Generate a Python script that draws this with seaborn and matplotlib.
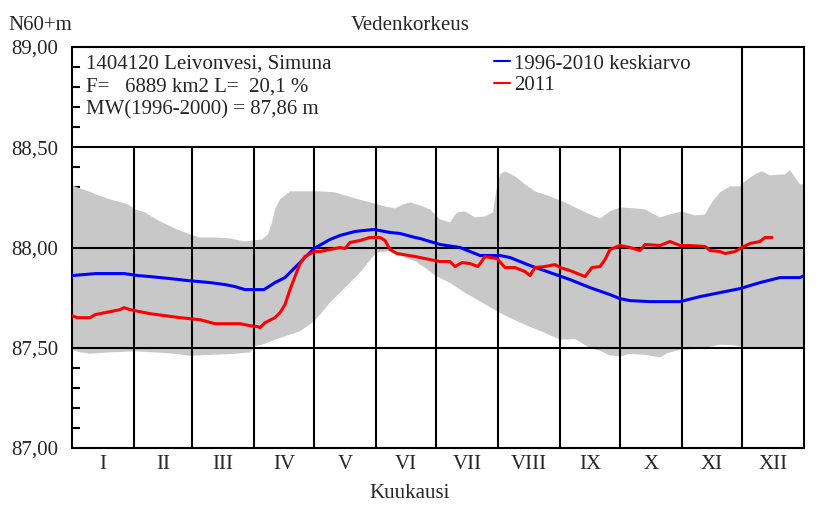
import numpy as np
import pandas as pd
import matplotlib
matplotlib.use("Agg")
import matplotlib.pyplot as plt
import seaborn as sns

# --- datos (dia del ano, nivel N60+m) ---
kuukaudet = ["I", "II", "III", "IV", "V", "VI", "VII", "VIII", "IX", "X", "XI", "XII"]
rajat = [0, 31, 60, 91, 121, 152, 182, 213, 244, 274, 305, 335, 366]

keski_paiva = [0, 12, 26, 33, 39, 49, 58, 69, 76.5, 81.5, 86.5, 96, 101.5, 106.5, 114,
               121, 129, 134, 141.5, 151, 159, 164, 171.5, 174, 184, 194, 204, 214, 219,
               229, 239, 249, 259, 269, 274, 279, 289, 304, 314, 324, 334, 344, 354, 364, 366]
keski_arvo = [87.86, 87.87, 87.87, 87.86, 87.855, 87.845, 87.835, 87.825, 87.815, 87.805,
              87.79, 87.79, 87.825, 87.85, 87.925, 87.995, 88.04, 88.06, 88.08, 88.09,
              88.075, 88.07, 88.05, 88.045, 88.015, 88.0, 87.96, 87.96, 87.95, 87.91,
              87.875, 87.84, 87.80, 87.765, 87.745, 87.735, 87.73, 87.73, 87.755, 87.775,
              87.795, 87.825, 87.85, 87.85, 87.86]

v2011_paiva = [0, 2.5, 9, 11.5, 14, 19, 24, 26, 29, 34, 39, 46.5, 54, 64, 71.5, 84, 89, 93,
               94, 96.5, 101.5, 104, 106.5, 109, 111.5, 114, 116.5, 121, 124, 129, 134,
               136.5, 139, 144, 149, 154, 156.5, 159, 162.5, 165.5, 171.5, 179, 184, 189,
               191.5, 195, 199, 203, 206.5, 209, 212.5, 216.5, 221.5, 226.5, 229, 231.5,
               236.5, 241.5, 244, 249, 251.5, 256.5, 260, 264, 266.5, 269, 274, 279, 284,
               286.5, 294, 299, 304, 309, 316.5, 319, 324, 326.5, 331.5, 335, 339, 344,
               346.5, 350]
v2011_arvo = [87.66, 87.65, 87.65, 87.665, 87.67, 87.68, 87.69, 87.70, 87.69, 87.68,
              87.67, 87.66, 87.65, 87.64, 87.62, 87.62, 87.61, 87.605, 87.60, 87.625,
              87.65, 87.675, 87.715, 87.79, 87.855, 87.92, 87.955, 87.98, 87.98, 87.99,
              88.00, 87.995, 88.025, 88.035, 88.05, 88.05, 88.035, 87.99, 87.97, 87.965,
              87.955, 87.94, 87.93, 87.93, 87.905, 87.925, 87.92, 87.905, 87.955, 87.95,
              87.945, 87.90, 87.90, 87.88, 87.86, 87.90, 87.905, 87.915, 87.90, 87.885,
              87.875, 87.855, 87.90, 87.905, 87.94, 87.99, 88.01, 88.00, 87.985, 88.015,
              88.01, 88.03, 88.01, 88.01, 88.005, 87.985, 87.98, 87.97, 87.98, 88.00,
              88.02, 88.03, 88.05, 88.05]

ylä_paiva = [0, 4, 9, 14, 19, 24, 28, 31.5, 36.5, 44, 51.5, 59, 64, 71.5, 79, 86.5, 95, 98,
             100, 101.5, 104, 109, 124, 131.5, 136.5, 141.5, 149, 156.5, 161.5, 165.5, 169,
             174, 179, 184, 189, 192.5, 196.5, 201.5, 206.5, 210.5, 212, 214, 216.5, 221.5,
             226.5, 231.5, 239, 246.5, 251.5, 259, 264, 269, 274, 281.5, 286.5, 294, 299,
             305, 311.5, 316.5, 320, 324, 329, 334, 336.5, 341.5, 345, 349, 356.5, 359, 364, 366]
ylä_arvo = [88.31, 88.295, 88.277, 88.257, 88.24, 88.227, 88.215, 88.19, 88.175, 88.13,
            88.095, 88.065, 88.05, 88.05, 88.045, 88.03, 88.04, 88.065, 88.125, 88.19,
            88.24, 88.28, 88.28, 88.275, 88.26, 88.245, 88.225, 88.205, 88.195, 88.215,
            88.225, 88.21, 88.19, 88.14, 88.125, 88.175, 88.18, 88.15, 88.155, 88.175,
            88.275, 88.365, 88.38, 88.355, 88.315, 88.28, 88.255, 88.225, 88.2, 88.165,
            88.145, 88.18, 88.2, 88.195, 88.19, 88.15, 88.165, 88.18, 88.16, 88.165,
            88.225, 88.275, 88.305, 88.305, 88.33, 88.365, 88.38, 88.36, 88.365, 88.385,
            88.315, 88.315]

ala_paiva = [0, 4, 9, 19, 31.5, 41.5, 51.5, 59, 69, 79, 89, 91.5, 96.5, 101.5, 106.5, 114,
             121, 124, 129, 134, 139, 144, 148, 152, 159, 164, 171.5, 176.5, 182, 189, 196.5,
             204, 212.5, 219, 229, 236.5, 244, 251.5, 259, 264, 269, 274, 279, 286.5, 294,
             298, 304, 314, 324, 330.5, 336.5, 366]
ala_arvo = [87.49, 87.477, 87.47, 87.477, 87.482, 87.477, 87.47, 87.46, 87.465, 87.468,
            87.477, 87.507, 87.52, 87.54, 87.557, 87.582, 87.632, 87.665, 87.725, 87.774,
            87.824, 87.874, 87.924, 87.974, 87.982, 87.96, 87.932, 87.899, 87.857, 87.824,
            87.774, 87.732, 87.682, 87.649, 87.604, 87.574, 87.54, 87.543, 87.499, 87.485,
            87.462, 87.457, 87.469, 87.465, 87.452, 87.474, 87.49, 87.495, 87.515, 87.512,
            87.502, 87.50]

sns.set_style("white")
plt.rcParams["font.family"] = ["Liberation Serif", "DejaVu Serif"]
fs = 15

fig = plt.figure(figsize=(8.4, 5.2), dpi=100)
ax = fig.add_axes([72 / 840, 72 / 520, 732 / 840, 401 / 520])

# min-max alue
ax.fill(ylä_paiva + ala_paiva[::-1], ylä_arvo + ala_arvo[::-1],
        color="#c8c8c8", lw=0, zorder=1)

# ruudukko
for y in [87.5, 88.0, 88.5]:
    ax.axhline(y, color="black", lw=1.5, zorder=2)
for r in rajat[1:-1]:
    ax.axvline(r, ymax=0.75 if r != 335 else 1, color="black", lw=1.5, zorder=2)

keski = pd.DataFrame({"paiva": keski_paiva, "taso": keski_arvo})
v2011 = pd.DataFrame({"paiva": v2011_paiva, "taso": v2011_arvo})
sns.lineplot(data=keski, x="paiva", y="taso", color="#0000ff", lw=2.2,
             label="1996-2010 keskiarvo", ax=ax, zorder=3)
sns.lineplot(data=v2011, x="paiva", y="taso", color="#ff0000", lw=2.2,
             label="2011", ax=ax, zorder=4)

ax.set_xlim(0, 366)
ax.set_ylim(87, 89)
for s in ax.spines.values():
    s.set_linewidth(1.5)
    s.set_color("black")

ax.set_yticks([87.0, 87.5, 88.0, 88.5, 89.0])
ax.set_yticklabels(["87,00", "87,50", "88,00", "88,50", "89,00"], fontsize=fs)
ax.set_yticks([v / 10 for v in range(871, 890) if v % 5 != 0], minor=True)
ax.tick_params(axis="y", which="major", length=0, pad=10)
ax.tick_params(axis="y", which="minor", direction="in", length=6, width=1.5,
               left=True, color="black")

keskikohdat = [(rajat[i] + rajat[i + 1]) / 2 for i in range(12)]
ax.set_xticks(keskikohdat)
ax.set_xticklabels(kuukaudet, fontsize=fs)
ax.tick_params(axis="x", length=0, pad=5)
ax.set_xlabel("")
ax.set_ylabel("")

leg = ax.legend(loc="upper left", bbox_to_anchor=(0.573, 1 - 5 / 401), frameon=False,
                fontsize=fs, handlelength=0.8, handletextpad=0.2,
                labelspacing=0.1, borderpad=0.1, borderaxespad=0)
for h in leg.get_lines():
    h.set_linewidth(1.5)

infot = ["1404120 Leivonvesi, Simuna", "F=   6889 km2 L=  20,1 %",
         "MW(1996-2000) = 87,86 m"]
for i, t in enumerate(infot):
    ax.text(14 / 732, 1 - (17 + 23 * i) / 401, t, transform=ax.transAxes,
            fontsize=fs, va="center", ha="left")

fig.text(410 / 840, 1 - 25 / 520, "Vedenkorkeus", ha="center", va="center", fontsize=fs)
fig.text(8 / 840, 1 - 25 / 520, "N60+m", ha="left", va="center", fontsize=fs)
fig.text(410 / 840, 1 - 494 / 520, "Kuukausi", ha="center", va="center", fontsize=fs)

fig.savefig("out.png", dpi=100)
